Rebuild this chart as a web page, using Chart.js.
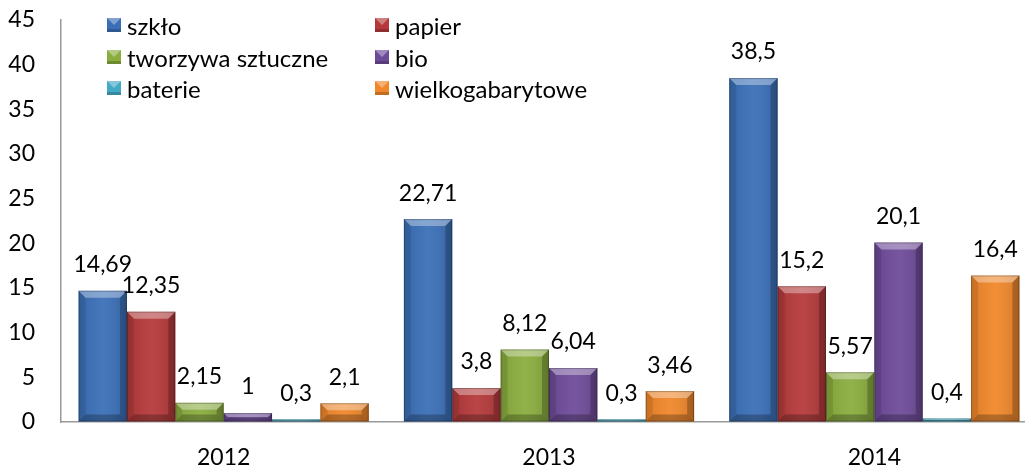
<!DOCTYPE html>
<html>
<head>
<meta charset="utf-8">
<script src="https://cdn.jsdelivr.net/npm/chart.js@4/dist/chart.umd.min.js"></script>
<style>
  html, body { margin: 0; padding: 0; background: #fff; overflow: hidden; }
  #wrap { width: 1040px; height: 468px; }
</style>
</head>
<body>
<div id="wrap"><canvas id="myChart"></canvas></div>
<script>
var years = ["2012", "2013", "2014"];
var seriesNames = ["szkło", "papier", "tworzywa sztuczne", "bio", "baterie", "wielkogabarytowe"];
var szklo = [14.69, 22.71, 38.5];
var papier = [12.35, 3.8, 15.2];
var tworzywa = [2.15, 8.12, 5.57];
var bio = [1, 6.04, 20.1];
var baterie = [0.3, 0.3, 0.4];
var wielkogabarytowe = [2.1, 3.46, 16.4];
var seriesColors = ["#3a6fb7", "#b5393a", "#8aad3e", "#6e4b99", "#43aac6", "#f0872a"];
var yTicks = [0, 5, 10, 15, 20, 25, 30, 35, 40, 45];

var FONT = "Lato, 'Open Sans', sans-serif";

// Excel-like bevel drawn over each bar
var bevelPlugin = {
  id: "bevel",
  afterDatasetsDraw: function (chart) {
    var ctx = chart.ctx;
    chart.data.datasets.forEach(function (ds, i) {
      chart.getDatasetMeta(i).data.forEach(function (bar) {
        var x0 = bar.x - bar.width / 2, x1 = bar.x + bar.width / 2;
        var top = Math.min(bar.y, bar.base), bot = Math.max(bar.y, bar.base);
        var h = bot - top;
        var b = Math.min(7, h / 2, bar.width / 2);
        ctx.save();
        var g = ctx.createLinearGradient(x0, 0, x1, 0);
        g.addColorStop(0, "rgba(0,0,0,0.08)");
        g.addColorStop(0.5, "rgba(255,255,255,0.06)");
        g.addColorStop(1, "rgba(0,0,0,0.12)");
        ctx.fillStyle = g;
        ctx.fillRect(x0, top, x1 - x0, h);
        // top facet
        ctx.fillStyle = "rgba(255,255,255,0.35)";
        ctx.beginPath();
        ctx.moveTo(x0, top); ctx.lineTo(x1, top);
        ctx.lineTo(x1 - b, top + b); ctx.lineTo(x0 + b, top + b);
        ctx.closePath(); ctx.fill();
        // left facet
        ctx.fillStyle = "rgba(0,0,0,0.10)";
        ctx.beginPath();
        ctx.moveTo(x0, top); ctx.lineTo(x0 + b, top + b);
        ctx.lineTo(x0 + b, bot - b); ctx.lineTo(x0, bot);
        ctx.closePath(); ctx.fill();
        // right facet
        ctx.fillStyle = "rgba(0,0,0,0.22)";
        ctx.beginPath();
        ctx.moveTo(x1, top); ctx.lineTo(x1 - b, top + b);
        ctx.lineTo(x1 - b, bot - b); ctx.lineTo(x1, bot);
        ctx.closePath(); ctx.fill();
        // bottom facet
        ctx.fillStyle = "rgba(0,0,0,0.25)";
        ctx.beginPath();
        ctx.moveTo(x0, bot); ctx.lineTo(x0 + b, bot - b);
        ctx.lineTo(x1 - b, bot - b); ctx.lineTo(x1, bot);
        ctx.closePath(); ctx.fill();
        ctx.strokeStyle = "rgba(0,0,0,0.25)";
        ctx.lineWidth = 1;
        ctx.strokeRect(x0 + 0.5, top + 0.5, x1 - x0 - 1, h - 1);
        ctx.restore();
      });
    });
  }
};

// value labels above bars, with decimal comma
var labelsPlugin = {
  id: "valueLabels",
  afterDatasetsDraw: function (chart) {
    var ctx = chart.ctx;
    ctx.save();
    ctx.font = "23px " + FONT;
    ctx.fillStyle = "#000";
    ctx.textAlign = "center";
    ctx.textBaseline = "middle";
    chart.data.datasets.forEach(function (ds, i) {
      chart.getDatasetMeta(i).data.forEach(function (bar, j) {
        var txt = String(ds.data[j]).replace(".", ",");
        ctx.fillText(txt, bar.x, bar.y - 26);
      });
    });
    ctx.restore();
  }
};

// two-column legend in the top left of the plot
var legendPlugin = {
  id: "twoColLegend",
  afterDraw: function (chart) {
    var ctx = chart.ctx;
    var colX = [107, 375];
    var rowY = [25, 57, 88];
    ctx.save();
    ctx.font = "24px " + FONT;
    ctx.textBaseline = "middle";
    ctx.textAlign = "left";
    chart.data.datasets.forEach(function (ds, i) {
      var x = colX[i % 2], y = rowY[Math.floor(i / 2)];
      ctx.fillStyle = ds.backgroundColor;
      ctx.fillRect(x, y - 7, 14, 14);
      ctx.fillStyle = "rgba(255,255,255,0.35)";
      ctx.beginPath();
      ctx.moveTo(x, y - 7); ctx.lineTo(x + 14, y - 7); ctx.lineTo(x + 7, y); ctx.closePath();
      ctx.fill();
      ctx.fillStyle = "rgba(0,0,0,0.2)";
      ctx.fillRect(x, y + 4, 14, 3);
      ctx.fillStyle = "#000";
      ctx.fillText(ds.label, x + 20, y + 2);
    });
    ctx.restore();
  }
};

var allData = [szklo, papier, tworzywa, bio, baterie, wielkogabarytowe];

var ctx = document.getElementById("myChart").getContext("2d");
var myChart = new Chart(ctx, {
  type: "bar",
  data: {
    labels: years,
    datasets: seriesNames.map(function (name, i) {
      return {
        label: name,
        data: allData[i],
        backgroundColor: seriesColors[i],
        categoryPercentage: 0.892,
        barPercentage: 1.0
      };
    })
  },
  options: {
    responsive: true,
    maintainAspectRatio: false,
    animation: false,
    layout: { padding: { top: 20, right: 3, bottom: 0, left: 0 } },
    plugins: {
      legend: { display: false },
      tooltip: { enabled: false }
    },
    scales: {
      x: {
        grid: { display: false, drawTicks: false },
        border: { display: true, color: "#9a9a9a", width: 1.5 },
        ticks: { color: "#000", font: { family: FONT, size: 23 }, padding: 22 },
        afterFit: function (axis) { axis.height = 46; }
      },
      y: {
        min: 0,
        max: 45,
        afterBuildTicks: function (axis) {
          axis.ticks = yTicks.map(function (v) { return { value: v }; });
        },
        grid: { display: true, drawOnChartArea: false, drawTicks: true, tickLength: 22, color: "rgba(0,0,0,0)" },
        border: { display: true, color: "#9a9a9a", width: 1.5 },
        ticks: { color: "#000", font: { family: FONT, size: 23 }, padding: 4 },
        afterFit: function (axis) { axis.width = 61; }
      }
    }
  },
  plugins: [bevelPlugin, labelsPlugin, legendPlugin]
});
</script>
</body>
</html>
